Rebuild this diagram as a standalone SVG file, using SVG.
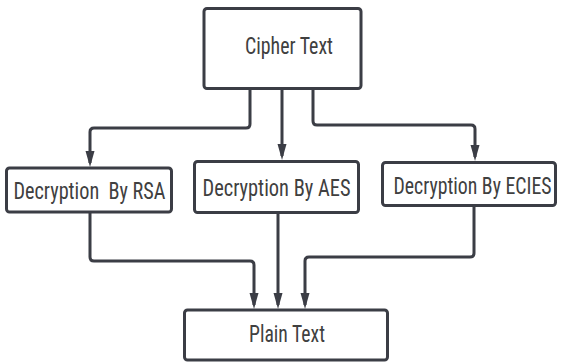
<svg xmlns="http://www.w3.org/2000/svg" width="568" height="363" viewBox="0 0 568 363">
  <defs>
    <style>
      .box { fill: #ffffff; stroke: #3b3d45; stroke-width: 3; }
      .label { font-family: "Liberation Sans Narrow", "Roboto Condensed", "Liberation Sans", sans-serif; font-size: 24px; fill: #404040; text-anchor: middle; }
      .wire { fill: none; stroke: #3b3d45; stroke-width: 3; stroke-linejoin: round; }
    </style>
    <!-- filled arrowhead; tip sits 4px past the end of the path -->
    <marker id="arrow" markerUnits="userSpaceOnUse" markerWidth="16" markerHeight="10" refX="12" refY="4.5" orient="auto">
      <path d="M0 0 L16 4.5 L0 9 z" fill="#3b3d45"/>
    </marker>
  </defs>

  <rect width="568" height="363" fill="#ffffff"/>

  <g id="connectors">
    <path class="wire" d="M250 89 V124 Q250 128 246 128 H94 Q90 128 90 132 V163" marker-end="url(#arrow)"/>
    <path class="wire" d="M282 89 V156" marker-end="url(#arrow)"/>
    <path class="wire" d="M313 89 V121 Q313 125 317 125 H471 Q475 125 475 129 V157" marker-end="url(#arrow)"/>
    <path class="wire" d="M90 213 V257 Q90 261 94 261 H250 Q254 261 254 265 V305" marker-end="url(#arrow)"/>
    <path class="wire" d="M278 213 V305" marker-end="url(#arrow)"/>
    <path class="wire" d="M474 207 V253 Q474 257 470 257 H309 Q305 257 305 261 V305" marker-end="url(#arrow)"/>
  </g>

  <g id="cipher-text">
    <rect class="box" x="204" y="8.5" width="157" height="80" rx="3"/>
    <text class="label" x="289" y="53.5" textLength="88" lengthAdjust="spacingAndGlyphs">Cipher Text</text>
  </g>

  <g id="decrypt-rsa">
    <rect class="box" x="6.5" y="168" width="165" height="44" rx="3"/>
    <text class="label" x="89.5" y="199" textLength="152" lengthAdjust="spacingAndGlyphs" xml:space="preserve">Decryption  By RSA</text>
  </g>

  <g id="decrypt-aes">
    <rect class="box" x="194.5" y="161.5" width="164" height="51" rx="3"/>
    <text class="label" x="276.5" y="196" textLength="148" lengthAdjust="spacingAndGlyphs">Decryption By AES</text>
  </g>

  <g id="decrypt-ecies">
    <rect class="box" x="382.5" y="162.5" width="173" height="43" rx="3"/>
    <text class="label" x="472.5" y="194" textLength="158" lengthAdjust="spacingAndGlyphs">Decryption By ECIES</text>
  </g>

  <g id="plain-text">
    <rect class="box" x="184.5" y="310" width="203" height="50" rx="3"/>
    <text class="label" x="287" y="342" textLength="76" lengthAdjust="spacingAndGlyphs">Plain Text</text>
  </g>
</svg>
